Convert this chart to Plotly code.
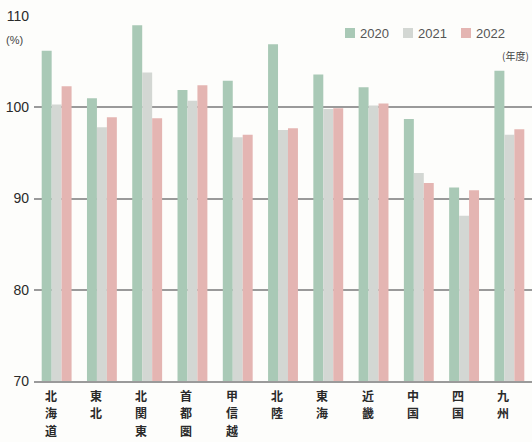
import plotly.graph_objects as go

regions = ["北海道", "東北", "北関東", "首都圏", "甲信越", "北陸", "東海", "近畿", "中国", "四国", "九州"]
v2020 = [106.2, 101.0, 109.0, 101.9, 102.9, 106.9, 103.6, 102.2, 98.7, 91.2, 104.0]
v2021 = [100.3, 97.8, 103.8, 100.7, 96.7, 97.5, 99.8, 100.2, 92.8, 88.1, 97.0]
v2022 = [102.3, 98.9, 98.8, 102.4, 97.0, 97.7, 99.9, 100.4, 91.7, 90.9, 97.6]
years = ["2020", "2021", "2022"]
colors = ["#a9c9b6", "#d3d7d3", "#e4b5b2"]

W, H = 532, 442
ML, MR, MT, MB = 34, 0, 16, 61
PW, PH = W - ML - MR, H - MT - MB


def px_x(p):
    return (p - ML) / PW


def px_y(p):
    return (H - MB - p) / PH


fig = go.Figure()
for name, vals, c in zip(years, [v2020, v2021, v2022], colors):
    fig.add_trace(go.Bar(x=regions, y=vals, name=name, marker_color=c,
                         marker_line_width=0))

fig.update_layout(
    width=W, height=H,
    margin=dict(l=ML, r=MR, t=MT, b=MB),
    paper_bgcolor="#fdfdfb", plot_bgcolor="#fdfdfb",
    barmode="group", bargap=0.34, bargroupgap=0,
    font=dict(family="Noto Sans CJK JP", color="#333333"),
    showlegend=False,
)
fig.update_yaxes(range=[70, 110], tickvals=[70, 80, 90, 100, 110],
                 showgrid=True, gridcolor="#9a9a9a", gridwidth=1.5,
                 zeroline=False, tickfont=dict(size=14, color="#2a2a2a",
                                               family="Liberation Sans"),
                 ticks="", ticklabelstandoff=4)
fig.update_xaxes(showline=True, linecolor="#9a9a9a", linewidth=1.5,
                 showticklabels=False, ticks="")

# vertical category labels (one character per line)
for r in regions:
    for k, ch in enumerate(r):
        fig.add_annotation(text=ch, x=r, xref="x", y=0, yref="paper",
                           xshift=-6, yshift=-(14 + 17.5 * k),
                           xanchor="center", yanchor="middle", showarrow=False,
                           font=dict(size=12, color="#2a2a2a", weight="bold"))

# manual legend
sq_x = [345, 403, 461]
for name, c, sx in zip(years, colors, sq_x):
    fig.add_shape(type="rect", xref="paper", yref="paper",
                  x0=px_x(sx), x1=px_x(sx + 10), y0=px_y(38), y1=px_y(28),
                  fillcolor=c, line_width=0)
    fig.add_annotation(text=name, xref="paper", yref="paper",
                       x=px_x(sx + 13), y=px_y(33), xanchor="left", yanchor="middle",
                       showarrow=False,
                       font=dict(size=13, color="#555555", family="Liberation Sans"))

fig.add_annotation(text="(%)", xref="paper", yref="paper", x=px_x(4), y=px_y(40),
                   xanchor="left", yanchor="middle", showarrow=False,
                   font=dict(size=11, color="#444444", family="Liberation Sans"))
fig.add_annotation(text="(年度)", xref="paper", yref="paper", x=px_x(531), y=px_y(55),
                   xanchor="right", yanchor="middle", showarrow=False,
                   font=dict(size=10, color="#444444"))

fig.write_html("out.html")
